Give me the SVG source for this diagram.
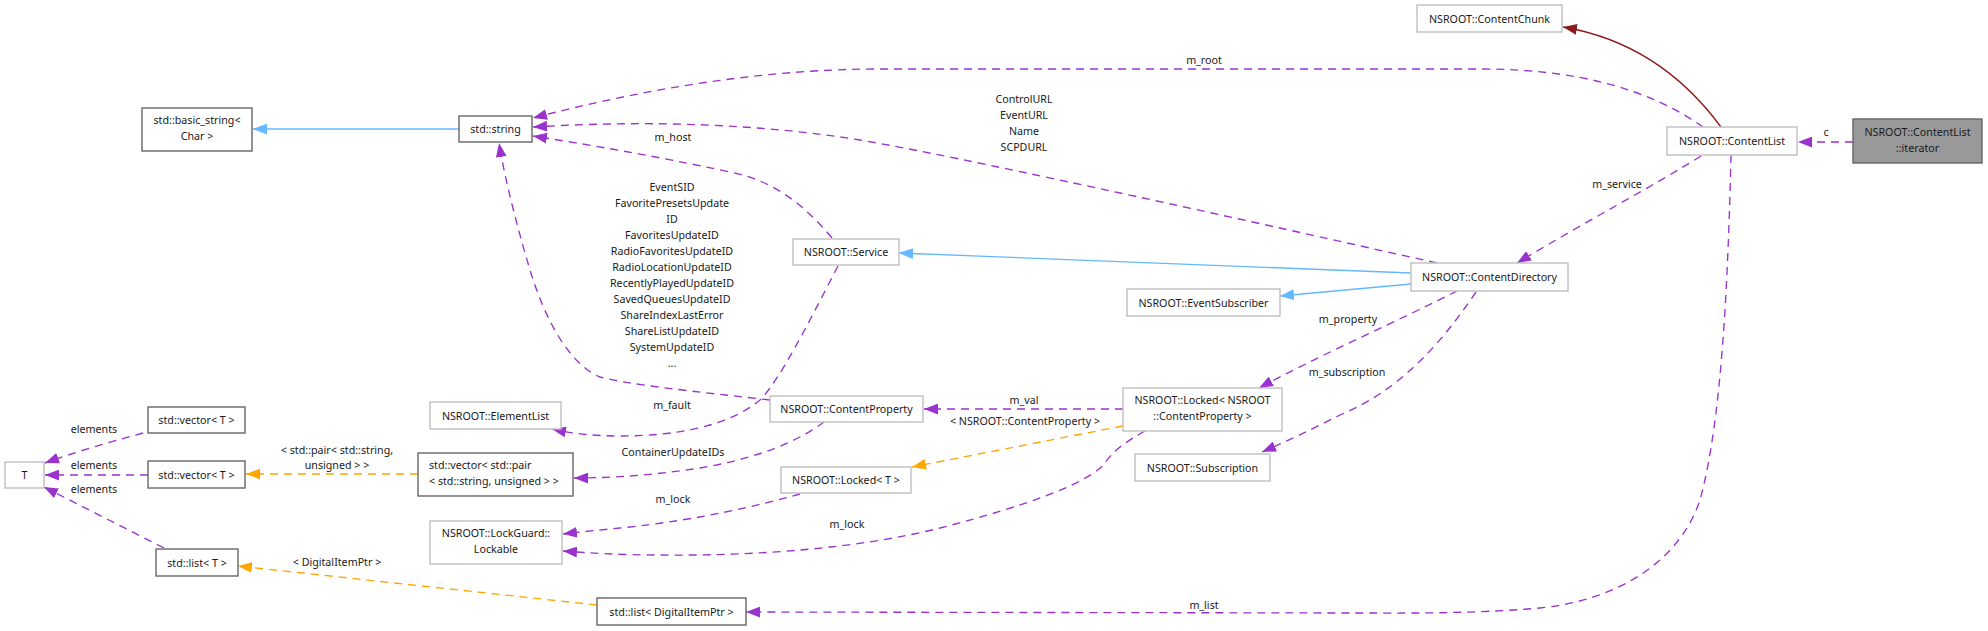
<svg xmlns="http://www.w3.org/2000/svg" width="1988" height="631" viewBox="0 0 1988 631">
<style>
  text { font-family: "Noto Sans", "DejaVu Sans", sans-serif; font-size: 10.7px; fill: #1a1a1a; text-anchor: middle; }
  .lt { text-anchor: start; }
  .nl { fill: #ffffff; stroke: #bfbfbf; stroke-width: 1.4; }
  .nd { fill: #ffffff; stroke: #666666; stroke-width: 1.4; }
  .nc { fill: #999999; stroke: #666666; stroke-width: 1.4; }
  .e { fill: none; stroke-width: 1.35; }
  .use { stroke: #9a32cd; stroke-dasharray: 8,6; marker-end: url(#ap); }
  .inh { stroke: #63b8ff; marker-end: url(#ab); }
  .tpl { stroke: #ffa500; stroke-dasharray: 8,6; marker-end: url(#ao); }
  .prv { stroke: #8b1a1a; marker-end: url(#ar); }
</style>
<defs>
  <marker id="ap" markerUnits="userSpaceOnUse" markerWidth="14" markerHeight="11" viewBox="0 0 13 10" refX="13" refY="5" orient="auto"><path d="M0,0 L13,5 L0,10 z" fill="#9a32cd"/></marker>
  <marker id="ab" markerUnits="userSpaceOnUse" markerWidth="14" markerHeight="11" viewBox="0 0 13 10" refX="13" refY="5" orient="auto"><path d="M0,0 L13,5 L0,10 z" fill="#63b8ff"/></marker>
  <marker id="ao" markerUnits="userSpaceOnUse" markerWidth="14" markerHeight="11" viewBox="0 0 13 10" refX="13" refY="5" orient="auto"><path d="M0,0 L13,5 L0,10 z" fill="#ffa500"/></marker>
  <marker id="ar" markerUnits="userSpaceOnUse" markerWidth="14" markerHeight="11" viewBox="0 0 13 10" refX="13" refY="5" orient="auto"><path d="M0,0 L13,5 L0,10 z" fill="#8b1a1a"/></marker>
</defs>
<rect width="1988" height="631" fill="#ffffff"/>

<g id="connectors">
  <path class="e inh" d="M459,129 L253,129"/>
  <path class="e use" d="M1703,127 C1650,90 1580,69 1480,69 L880,69 C760,69 640,90 533,118"/>
  <text x="1204" y="64">m_root</text>
  <path class="e use" d="M1437,263 C1200,210 950,155 860,140 C760,124 650,120 533,127"/>
  <text x="1024" y="103">ControlURL</text>
  <text x="1024" y="119">EventURL</text>
  <text x="1024" y="135">Name</text>
  <text x="1024" y="151">SCPDURL</text>
  <path class="e use" d="M832,238 C800,200 770,180 730,172 C650,155 590,145 533,136"/>
  <text x="673" y="141">m_host</text>
  <path class="e use" d="M770,400 C700,392 630,385 600,377 C570,365 545,320 530,270 C518,230 505,180 499,143"/>
  <text x="672" y="191">EventSID</text>
  <text x="672" y="207">FavoritePresetsUpdate</text>
  <text x="672" y="223">ID</text>
  <text x="672" y="239">FavoritesUpdateID</text>
  <text x="672" y="255">RadioFavoritesUpdateID</text>
  <text x="672" y="271">RadioLocationUpdateID</text>
  <text x="672" y="287">RecentlyPlayedUpdateID</text>
  <text x="672" y="303">SavedQueuesUpdateID</text>
  <text x="672" y="319">ShareIndexLastError</text>
  <text x="672" y="335">ShareListUpdateID</text>
  <text x="672" y="351">SystemUpdateID</text>
  <text x="672" y="367">...</text>
  <path class="e use" d="M838,266 C810,320 780,380 760,400 C730,425 680,436 620,436 C595,436 575,434 552,429"/>
  <text x="672" y="409">m_fault</text>
  <path class="e inh" d="M1411,273 L899,253"/>
  <path class="e inh" d="M1411,284 L1280,296"/>
  <path class="e use" d="M1701,156 C1660,182 1580,225 1517,263"/>
  <text x="1617" y="188">m_service</text>
  <path class="e use" d="M1731,155 C1728,280 1722,420 1700,500 C1680,560 1620,600 1540,608 C1470,614 1400,613 1350,613 L746,612"/>
  <text x="1204" y="609">m_list</text>
  <path class="e use" d="M1457,291 C1400,320 1320,355 1259,388"/>
  <text x="1348" y="323">m_property</text>
  <path class="e use" d="M1476,292 C1440,345 1400,390 1340,415 C1310,430 1290,440 1262,452"/>
  <text x="1347" y="376">m_subscription</text>
  <path class="e use" d="M1123,409 L924,409"/>
  <text x="1024" y="404">m_val</text>
  <path class="e tpl" d="M1123,426 L912,467"/>
  <text x="1025" y="425">&lt; NSROOT::ContentProperty &gt;</text>
  <path class="e use" d="M1145,431 C1125,442 1112,452 1105,463 C1090,482 1030,505 940,528 C860,548 760,556 660,555 C620,555 590,553 563,551"/>
  <text x="847" y="528">m_lock</text>
  <path class="e use" d="M800,494 C760,505 700,520 620,528 C600,530 580,532 563,534"/>
  <text x="673" y="503">m_lock</text>
  <path class="e use" d="M824,422 C800,440 760,458 700,468 C660,474 620,478 574,478"/>
  <text x="673" y="456">ContainerUpdateIDs</text>
  <path class="e tpl" d="M418,474 L246,474"/>
  <text x="337" y="454">&lt; std::pair&lt; std::string,</text>
  <text x="337" y="469">unsigned &gt; &gt;</text>
  <path class="e use" d="M143,433 C110,442 75,452 45,463"/>
  <text x="94" y="433">elements</text>
  <path class="e use" d="M148,475 L45,475"/>
  <text x="94" y="469">elements</text>
  <path class="e use" d="M164,548 L44,487"/>
  <text x="94" y="493">elements</text>
  <path class="e tpl" d="M597,605 L238,566"/>
  <text x="337" y="566">&lt; DigitalItemPtr &gt;</text>
  <path class="e use" d="M1853,142 L1798,142"/>
  <text x="1826" y="136">c</text>
  <path class="e prv" d="M1721,127 C1690,85 1640,40 1563,27"/>
</g>

<g id="node-contentchunk"><rect class="nl" x="1417" y="5" width="145" height="27"/><text x="1489.5" y="22.5">NSROOT::ContentChunk</text></g>
<g id="node-contentlist"><rect class="nl" x="1667" y="127" width="130" height="28"/><text x="1732" y="145">NSROOT::ContentList</text></g>
<g id="node-iterator"><rect class="nc" x="1853" y="119" width="129" height="44"/><text x="1917.5" y="136">NSROOT::ContentList</text><text x="1917.5" y="152">::iterator</text></g>
<g id="node-basic-string"><rect class="nd" x="142" y="108" width="110" height="43"/><text x="197" y="124">std::basic_string&lt;</text><text x="197" y="140">Char &gt;</text></g>
<g id="node-string"><rect class="nd" x="459" y="116" width="73" height="26"/><text x="495.5" y="133">std::string</text></g>
<g id="node-service"><rect class="nl" x="793" y="239" width="106" height="26"/><text x="846" y="256">NSROOT::Service</text></g>
<g id="node-contentdirectory"><rect class="nl" x="1411" y="263" width="157" height="28"/><text x="1489.5" y="281">NSROOT::ContentDirectory</text></g>
<g id="node-eventsubscriber"><rect class="nl" x="1127" y="289" width="153" height="27"/><text x="1203.5" y="306.5">NSROOT::EventSubscriber</text></g>
<g id="node-elementlist"><rect class="nl" x="430" y="402" width="131" height="27"/><text x="495.5" y="419.5">NSROOT::ElementList</text></g>
<g id="node-contentproperty"><rect class="nl" x="770" y="396" width="153" height="26"/><text x="846.5" y="413">NSROOT::ContentProperty</text></g>
<g id="node-locked-cp"><rect class="nl" x="1123" y="388" width="159" height="43"/><text x="1202.5" y="404">NSROOT::Locked&lt; NSROOT</text><text x="1202.5" y="420">::ContentProperty &gt;</text></g>
<g id="node-subscription"><rect class="nl" x="1135" y="454" width="135" height="27"/><text x="1202.5" y="471.5">NSROOT::Subscription</text></g>
<g id="node-locked-t"><rect class="nl" x="781" y="467" width="130" height="26"/><text x="846" y="484">NSROOT::Locked&lt; T &gt;</text></g>
<g id="node-lockable"><rect class="nl" x="430" y="521" width="132" height="43"/><text x="496" y="537">NSROOT::LockGuard::</text><text x="496" y="553">Lockable</text></g>
<g id="node-vector-pair"><rect class="nd" x="418" y="453" width="155" height="43"/><text class="lt" x="429" y="469">std::vector&lt; std::pair</text><text class="lt" x="429" y="485">&lt; std::string, unsigned &gt; &gt;</text></g>
<g id="node-vector-t1"><rect class="nd" x="148" y="407" width="97" height="26"/><text x="196.5" y="424">std::vector&lt; T &gt;</text></g>
<g id="node-vector-t2"><rect class="nd" x="148" y="461" width="97" height="27"/><text x="196.5" y="478.5">std::vector&lt; T &gt;</text></g>
<g id="node-t"><rect class="nl" x="5" y="462" width="39" height="26"/><text x="24.5" y="479">T</text></g>
<g id="node-list-t"><rect class="nd" x="156" y="549" width="82" height="27"/><text x="197" y="566.5">std::list&lt; T &gt;</text></g>
<g id="node-list-dip"><rect class="nd" x="597" y="598" width="149" height="27"/><text x="671.5" y="615.5">std::list&lt; DigitalItemPtr &gt;</text></g>
</svg>
